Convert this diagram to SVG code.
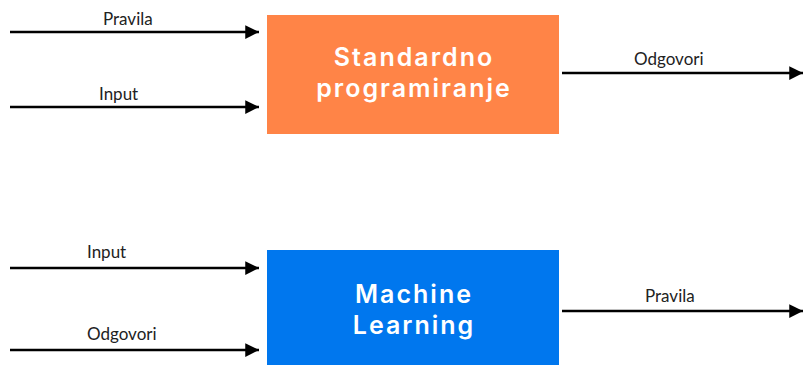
<svg xmlns="http://www.w3.org/2000/svg" width="803" height="365" viewBox="0 0 803 365">
<style>
.lbl{font-family:Lato,"Noto Sans",sans-serif;font-size:17px;fill:#222}
.box{font-family:Inter,"Open Sans",sans-serif;font-weight:600;font-size:25px;fill:#fff;text-anchor:middle;letter-spacing:2px}
.ln{stroke:#000;stroke-width:2.5;fill:none;marker-end:url(#ah)}
</style>
<defs>
<marker id="ah" viewBox="0 0 10 10" refX="10" refY="5" markerWidth="5.5" markerHeight="5.5" orient="auto" markerUnits="strokeWidth">
<path d="M0,0 L10,5 L0,10 Z" fill="#000"/>
</marker>
</defs>
<rect width="803" height="365" fill="#fff"/>
<g id="connectors">
<line class="ln" x1="10" y1="32" x2="259" y2="32"/>
<line class="ln" x1="10" y1="107" x2="259" y2="107"/>
<line class="ln" x1="562" y1="73" x2="803" y2="73"/>
<line class="ln" x1="10" y1="268" x2="259" y2="268"/>
<line class="ln" x1="10" y1="350" x2="259" y2="350"/>
<line class="ln" x1="562" y1="311" x2="803" y2="311"/>
<text class="lbl" x="103" y="25">Pravila</text>
<text class="lbl" x="99" y="100">Input</text>
<text class="lbl" x="634" y="65">Odgovori</text>
<text class="lbl" x="87" y="258">Input</text>
<text class="lbl" x="87" y="340">Odgovori</text>
<text class="lbl" x="645" y="302">Pravila</text>
</g>
<g id="standardno">
<rect x="267" y="15" width="292" height="119" fill="#FF8447"/>
<text class="box" x="414" y="66">Standardno</text>
<text class="box" x="414" y="97">programiranje</text>
</g>
<g id="ml">
<rect x="267" y="250" width="292" height="120" fill="#0077EE"/>
<text class="box" x="414" y="303">Machine</text>
<text class="box" x="414" y="334">Learning</text>
</g>
</svg>
